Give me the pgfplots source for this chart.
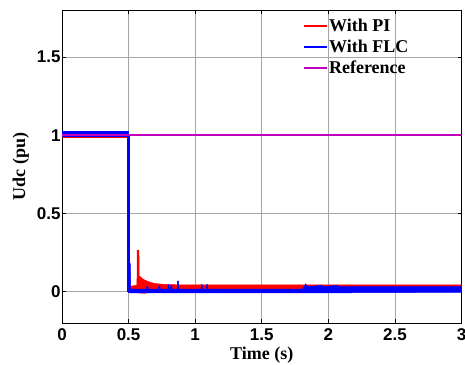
\documentclass[border=0pt]{standalone}
\usepackage{pgfplots}
\pgfplotsset{compat=1.18}
\usepackage{fontspec}
\setmainfont{Liberation Serif}
\newfontfamily\arial{Liberation Sans}
\definecolor{refmag}{rgb}{0.75,0,0.75}
\begin{document}
\begin{tikzpicture}
\begin{axis}[
  scale only axis,
  width=399.5pt, height=313pt,
  xmin=0, xmax=3, ymin=-0.2, ymax=1.8,
  xtick={0,0.5,1,1.5,2,2.5,3},
  ytick={0,0.5,1,1.5},
  grid=major,
  major grid style={black!35, line width=0.8pt},
  tick align=inside,
  major tick length=4pt,
  tick style={black, line width=0.6pt},
  axis line style={black, line width=0.9pt},
  ticklabel style={font=\fontsize{17}{20}\selectfont\arial\bfseries},
  /pgf/number format/assume math mode=true,
  xticklabel style={yshift=-2pt},
  yticklabel style={xshift=2pt},
  xlabel={\bfseries Time (s)},
  ylabel={\bfseries Udc (pu)},
  label style={font=\fontsize{18}{21}\selectfont},
  xlabel style={at={(axis description cs:0.5,-0.118)}, anchor=base},
  ylabel style={at={(axis description cs:-0.0926,0.5)}, anchor=base},
  legend style={font=\fontsize{18}{21}\selectfont\bfseries, draw=none, fill=none,
    at={(axis description cs:0.603,0.974)}, anchor=north west,
    inner sep=0pt, row sep=5pt, nodes={inner sep=1pt}},
  legend cell align=left,
  legend image code/.code={\draw[#1, line width=2pt] (0pt,0pt) -- (23pt,0pt);},
]
% PI
\addplot[red, line width=2.5pt] coordinates {(0,1) (0.5,1) (0.5,0.02) (3,0.02)};
\addlegendentry{With PI}
\addplot[red, fill=red, line width=0.5pt, forget plot] coordinates {
 (0.50,0.032) (0.55,0.040) (0.563,0.042) (0.564,0.265) (0.578,0.265) (0.579,0.100)
 (0.59,0.095) (0.60,0.085) (0.62,0.075) (0.64,0.067) (0.67,0.058) (0.70,0.052)
 (0.75,0.048) (0.80,0.045) (0.88,0.044) (1.00,0.044) (1.80,0.044) (3.00,0.044)
 (3.00,0.000) (0.70,0.000) (0.62,-0.010) (0.55,-0.006) (0.50,0.000)} -- cycle;
\addplot[red, fill=red, line width=0.5pt, forget plot] coordinates {
 (0,0.988) (0.5,0.988) (0.5,1.010) (0,1.010)} -- cycle;
% FLC
\addplot[blue, line width=2.8pt] coordinates {(0,1) (0.5,1) (0.5,0.004) (3,0.004)};
\addlegendentry{With FLC}
\addplot[blue, fill=blue, line width=0.5pt, forget plot] coordinates {
 (0,0.993) (0.5,0.993) (0.5,1.024) (0,1.024)} -- cycle;
\addplot[blue, fill=blue, line width=0.5pt, forget plot] coordinates {
 (0.500,0.017) (0.505,0.017) (0.506,0.180) (0.514,0.180) (0.515,0.017)
 (0.635,0.017) (0.637,0.035) (0.645,0.035) (0.647,0.017)
 (0.725,0.017) (0.727,0.038) (0.735,0.038) (0.737,0.017)
 (0.795,0.017) (0.797,0.045) (0.803,0.045) (0.805,0.017)
 (0.815,0.017) (0.817,0.040) (0.825,0.040) (0.827,0.017)
 (0.865,0.017) (0.867,0.067) (0.875,0.067) (0.877,0.017)
 (1.045,0.017) (1.047,0.045) (1.053,0.045) (1.055,0.017)
 (1.085,0.017) (1.087,0.045) (1.093,0.045) (1.095,0.017)
 (1.800,0.017) (1.820,0.033) (1.830,0.050) (1.840,0.033)
 (1.950,0.040) (1.960,0.033) (2.070,0.040) (2.080,0.033) (3.000,0.032)
 (3.000,-0.004) (1.800,-0.008) (0.500,-0.008)} -- cycle;
% Reference
\addplot[refmag, line width=2.5pt] coordinates {(0,1) (3,1)};
\addlegendentry{Reference}
\end{axis}
\pgfresetboundingbox
\path ([shift={(-62pt,-42pt)}]current axis.south west) rectangle ([shift={(3.5pt,10pt)}]current axis.north east);
\end{tikzpicture}
\end{document}
